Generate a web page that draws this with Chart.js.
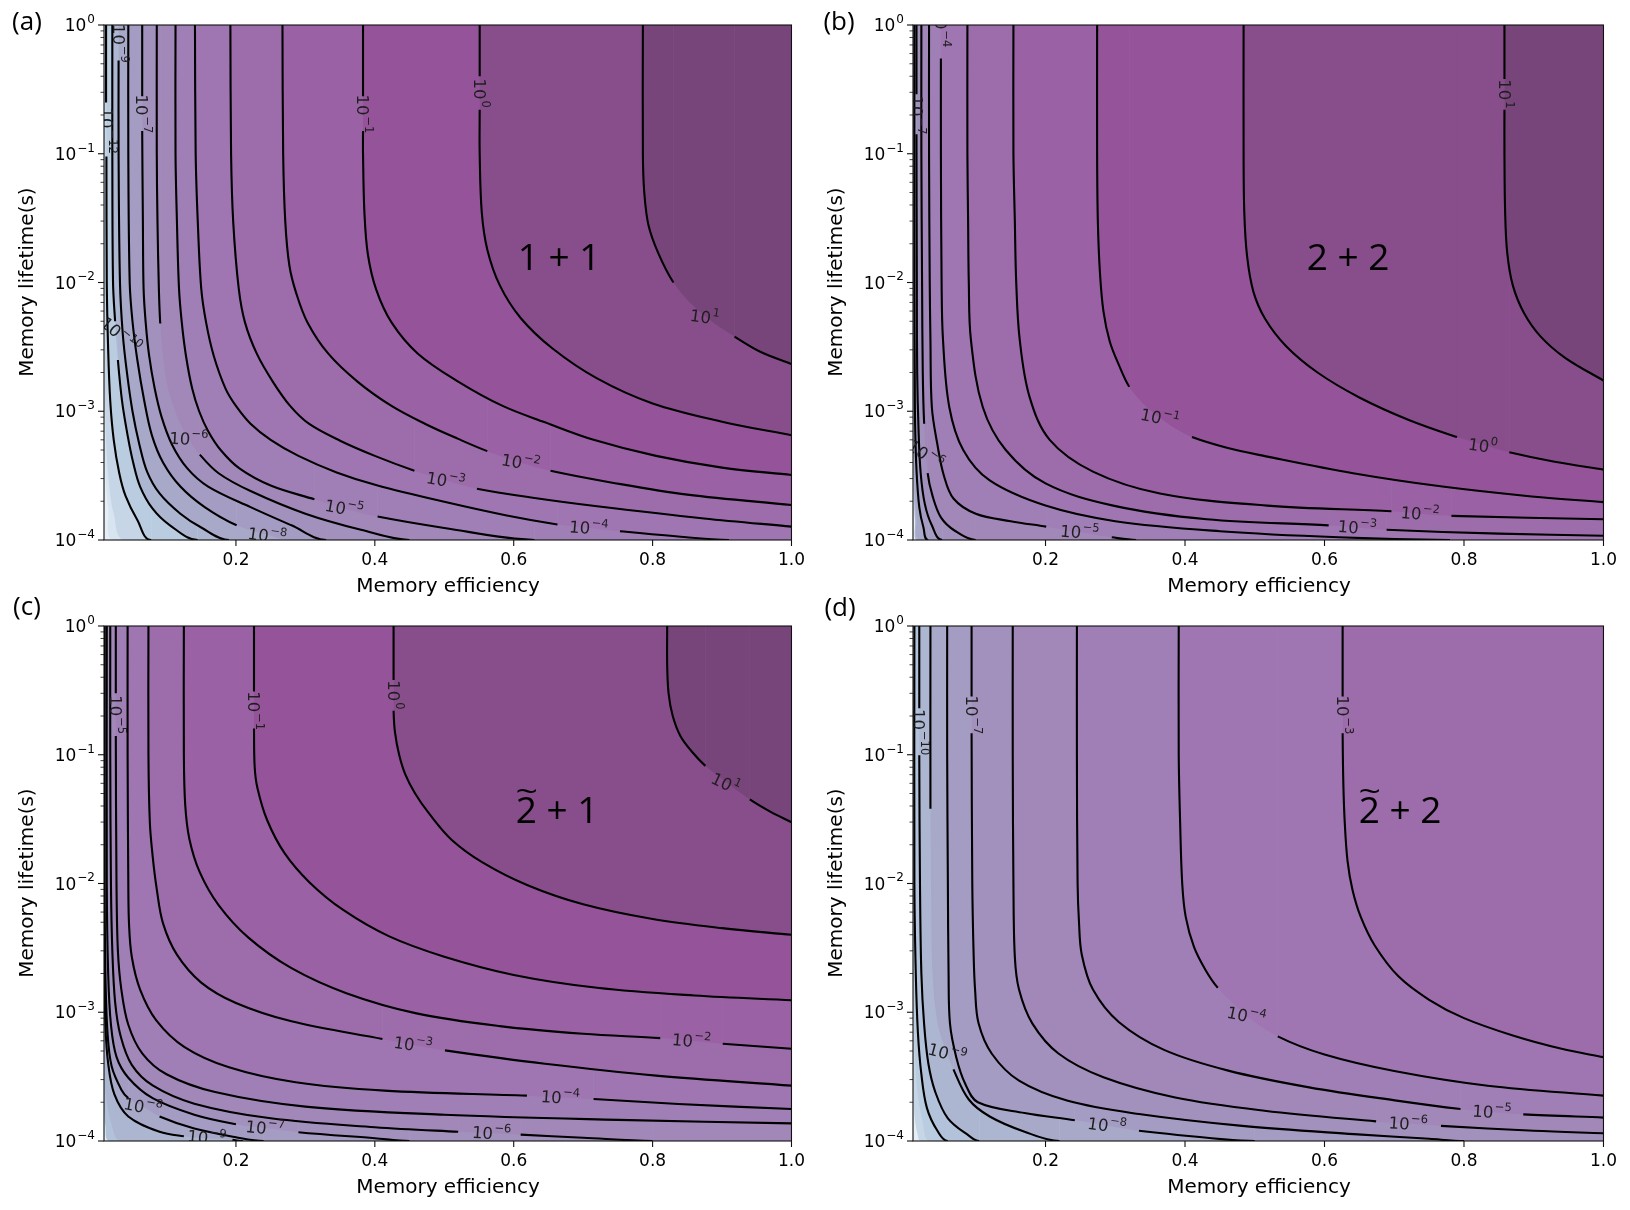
<!DOCTYPE html>
<html><head><meta charset="utf-8">
<script src="https://cdn.jsdelivr.net/npm/chart.js@4.4.0/dist/chart.umd.min.js"></script>
<style>
html,body{margin:0;padding:0;background:#fff;}
body{width:1630px;height:1210px;position:relative;overflow:hidden;}
canvas{position:absolute;}
.t{position:absolute;transform:translate(-50%,-50%);white-space:nowrap;line-height:1;color:#000;}
.ax{font-family:"DejaVu Sans";font-size:20px;}
.ayl{font-family:"DejaVu Sans";font-size:20px;transform:translate(-50%,-50%) rotate(-90deg);}
.pl{font-family:"Open Sans","Noto Sans",sans-serif;font-size:26px;}
.an{font-family:"Open Sans","Noto Sans",sans-serif;font-size:37px;}
.tl{position:relative;display:inline-block;}
.tt{position:absolute;left:50%;top:-0.5em;transform:translateX(-50%) scaleX(1.25);font-size:0.85em;line-height:1;}
</style></head><body>
<canvas id="ca" width="815" height="600" style="left:0px;top:0px;width:815px;height:600px"></canvas>
<canvas id="cb" width="818" height="600" style="left:809px;top:0px;width:818px;height:600px"></canvas>
<canvas id="cc" width="815" height="600" style="left:0px;top:601px;width:815px;height:600px"></canvas>
<canvas id="cd" width="818" height="600" style="left:809px;top:601px;width:818px;height:600px"></canvas>

<div class="t pl" style="left:27px;top:20px">(a)</div>
<div class="t pl" style="left:839px;top:20px">(b)</div>
<div class="t pl" style="left:27px;top:605px">(c)</div>
<div class="t pl" style="left:840px;top:606px">(d)</div>

<div class="t ax" style="left:448px;top:585px">Memory efficiency</div>
<div class="t ax" style="left:1259px;top:585px">Memory efficiency</div>
<div class="t ax" style="left:448px;top:1186px">Memory efficiency</div>
<div class="t ax" style="left:1259px;top:1186px">Memory efficiency</div>
<div class="t ayl" style="left:26px;top:282px">Memory lifetime(s)</div>
<div class="t ayl" style="left:835px;top:282px">Memory lifetime(s)</div>
<div class="t ayl" style="left:26px;top:883px">Memory lifetime(s)</div>
<div class="t ayl" style="left:835px;top:883px">Memory lifetime(s)</div>

<div class="t an" style="left:559px;top:255px">1 + 1</div>
<div class="t an" style="left:1348px;top:255px">2 + 2</div>
<div class="t an" style="left:557px;top:808px"><span class="tl">2<span class="tt">~</span></span> + 1</div>
<div class="t an" style="left:1400px;top:808px"><span class="tl">2<span class="tt">~</span></span> + 2</div>

<script>
// ---------- axis values ----------
const X_TICKS = [0.2, 0.4, 0.6, 0.8, 1.0];
const Y_TICKS = [1e-4, 1e-3, 1e-2, 1e-1, 1];
const X_RANGE = [0.01, 1.0];
const Y_RANGE = [1e-4, 1];

// ---------- panel (a) 1+1 : contour levels (powers of ten) and paths ----------
const A_LEVELS = [1, 0, -1, -2, -3, -4, -5, -6, -7, -8, -9, -10, -12];
const A_PATHS = [
 [[0.786,1],[0.786,0.1],[0.788,0.05],[0.794,0.028],[0.808,0.017],[0.83,0.01],null,[0.856,0.0068],null,[0.885,0.005],null,[0.918,0.0038],[0.955,0.0029],[1.0,0.00233]],
 [[0.551,1],[0.551,0.4],null,[0.551,0.22],[0.551,0.1],[0.554,0.035],[0.562,0.018],[0.58,0.0095],[0.61,0.0053],[0.655,0.0031],[0.72,0.0018],[0.8,0.00115],[0.9,8.3e-4],[1.0,6.5e-4]],
 [[0.383,1],[0.383,0.28],null,[0.383,0.15],[0.383,0.1],[0.385,0.035],[0.39,0.0165],[0.402,0.0088],[0.424,0.0049],[0.462,0.0028],[0.52,0.0017],[0.584,0.0011],[0.645,8.2e-4],[0.715,6.0e-4],[0.805,4.5e-4],[0.9,3.65e-4],[1.0,3.2e-4]],
 [[0.267,1],[0.268,0.1],[0.271,0.03],[0.277,0.0135],[0.287,0.0082],[0.303,0.0049],[0.333,0.0028],[0.375,0.0017],[0.424,0.0011],[0.472,8.0e-4],[0.52,6.1e-4],[0.562,4.9e-4],null,[0.61,4.0e-4],null,[0.653,3.45e-4],[0.74,2.8e-4],[0.85,2.25e-4],[1.0,1.87e-4]],
 [[0.192,1],[0.193,0.1],[0.196,0.03],[0.204,0.009],[0.213,0.0049],[0.23,0.0028],[0.253,0.0017],[0.278,0.0011],[0.305,8.0e-4],[0.35,5.9e-4],[0.40,4.5e-4],[0.457,3.45e-4],null,[0.502,2.9e-4],null,[0.547,2.5e-4],[0.63,2.12e-4],[0.723,1.82e-4],[0.874,1.47e-4],[1.0,1.27e-4]],
 [[0.141,1],[0.142,0.1],[0.145,0.03],[0.15,0.009],[0.157,0.0049],[0.168,0.0027],[0.185,0.0015],[0.2,0.0011],[0.221,8e-4],[0.25,6e-4],[0.29,4.5e-4],[0.345,3.35e-4],[0.404,2.65e-4],[0.5,1.98e-4],[0.59,1.55e-4],[0.663,1.32e-4],null,[0.708,1.24e-4],null,[0.753,1.17e-4],[0.84,1.06e-4],[0.91,1e-4]],
 [[0.113,1],[0.113,0.1],[0.115,0.03],[0.118,0.009],[0.122,0.0049],[0.128,0.0027],[0.137,0.0015],[0.147,0.001],[0.16,7e-4],[0.178,5e-4],[0.205,3.6e-4],[0.25,2.65e-4],[0.313,2.07e-4],null,[0.356,1.76e-4],null,[0.404,1.52e-4],[0.5,1.24e-4],[0.63,1e-4]],
 [[0.086,1],[0.086,0.1],[0.087,0.03],[0.089,0.009],[0.091,0.0048],null,[0.095,0.0027],null,[0.101,0.0016],null,[0.11,0.0011],null,[0.12,8e-4],null,[0.132,6.1e-4],null,[0.148,4.6e-4],[0.175,3.3e-4],[0.221,2.4e-4],[0.3,1.6e-4],[0.38,1.2e-4],[0.45,1e-4]],
 [[0.065,1],[0.065,0.28],null,[0.065,0.15],[0.066,0.03],[0.067,0.009],[0.07,0.0049],[0.075,0.0027],[0.083,0.0015],[0.093,9e-4],[0.108,5.5e-4],[0.13,3.6e-4],[0.16,2.6e-4],[0.221,1.8e-4],[0.28,1.3e-4],[0.33,1e-4]],
 [[0.045,1],[0.045,0.1],[0.047,0.01],[0.051,0.005],[0.058,0.0025],[0.068,0.0012],[0.079,6.5e-4],[0.095,4e-4],[0.12,2.6e-4],[0.155,1.8e-4],[0.201,1.3e-4],null,[0.245,1.1e-4],null,[0.28,1e-4]],
 [[0.031,1],null,[0.031,0.53],[0.031,0.1],[0.033,0.01],[0.037,0.004],[0.043,0.002],[0.051,0.001],[0.061,5.5e-4],[0.072,3.4e-4],[0.09,2.3e-4],[0.12,1.6e-4],[0.15,1.25e-4],[0.19,1e-4]],
 [[0.022,1],[0.022,0.1],[0.023,0.01],[0.026,0.005],null,[0.03,0.0025],[0.036,0.0012],[0.044,6.5e-4],[0.052,4e-4],[0.062,2.6e-4],[0.08,1.75e-4],[0.105,1.3e-4],[0.145,1e-4]],
 [[0.013,1],[0.013,0.25],null,[0.0135,0.095],[0.014,0.01],[0.016,0.003],[0.019,0.0012],[0.024,6e-4],[0.032,3.3e-4],[0.041,2.2e-4],[0.058,1.43e-4],[0.078,1e-4]]
];
const A_FILL_LEVELS = [-13, -14];
const A_FILL_PATHS = [
 [[0.01,0.02],[0.011,0.002],[0.013,6e-4],[0.017,2.8e-4],[0.024,1.6e-4],[0.04,1e-4]],
 [[0.01,0.0012],[0.012,3.5e-4],[0.016,1.8e-4],[0.024,1e-4]]
];
// label: [x, y, exponent, rotation deg]
const A_LABELS = [
 [0.014,0.151,-12,90],[0.031,0.72,-9,90],[0.065,0.204,-7,90],[0.383,0.204,-1,90],[0.551,0.296,0,90],
 [0.875,0.0054,1,8],[0.034,0.0039,-10,40],[0.132,6.1e-4,-6,3],[0.61,4.0e-4,-2,10],[0.502,2.9e-4,-3,10],
 [0.356,1.76e-4,-5,10],[0.708,1.24e-4,-4,5],[0.245,1.08e-4,-8,8]
];

// ---------- panel (b) 2+2 ----------
const B_LEVELS = [1, 0, -1, -2, -3, -4, -5, -6, -7, -8];
const B_PATHS = [
 [[0.858,1],[0.858,0.38],null,[0.858,0.22],[0.858,0.1],[0.859,0.035],[0.862,0.017],[0.87,0.0095],[0.886,0.0058],[0.91,0.0038],[0.945,0.0026],[1.0,0.00173]],
 [[0.484,1],[0.484,0.1],[0.485,0.035],[0.489,0.016],[0.498,0.0085],[0.515,0.0052],[0.545,0.0032],[0.59,0.002],[0.65,0.00128],[0.72,8.6e-4],[0.79,6.3e-4],null,[0.827,5.5e-4],null,[0.865,4.8e-4],[0.93,4.05e-4],[1.0,3.52e-4]],
 [[0.274,1],[0.274,0.1],[0.275,0.03],[0.278,0.012],[0.283,0.006],[0.292,0.0035],[0.305,0.0023],[0.32,0.00155],null,[0.34,0.00115],null,[0.364,8.9e-4],null,[0.387,7.3e-4],null,[0.41,6.3e-4],[0.46,5.2e-4],[0.513,4.5e-4],[0.641,3.3e-4],[0.769,2.6e-4],[0.897,2.18e-4],[1.0,1.97e-4]],
 [[0.154,1],[0.154,0.1],[0.156,0.03],[0.158,0.01],[0.163,0.0036],[0.177,0.0013],[0.206,6e-4],[0.268,3.4e-4],[0.364,2.3e-4],[0.518,1.85e-4],[0.696,1.67e-4],null,[0.737,1.6e-4],null,[0.782,1.54e-4],[1.0,1.45e-4]],
 [[0.088,1],[0.088,0.1],[0.089,0.03],[0.09,0.01],[0.093,0.0036],[0.11,0.00108],[0.143,5e-4],[0.2,2.75e-4],[0.297,1.85e-4],[0.431,1.45e-4],[0.606,1.3e-4],null,[0.647,1.25e-4],null,[0.689,1.2e-4],[0.85,1.12e-4],[1.0,1.08e-4]],
 [[0.05,1],null,[0.05,0.55],[0.05,0.1],[0.051,0.01],[0.053,0.0036],[0.062,0.00108],[0.082,5e-4],[0.12,2.9e-4],[0.2,1.85e-4],[0.3,1.4e-4],[0.45,1.17e-4],[0.62,1.05e-4],[0.78,1e-4]],
 [[0.033,1],[0.033,0.1],[0.034,0.01],[0.035,0.0036],[0.037,0.00108],[0.045,5.5e-4],[0.054,3.2e-4],[0.068,2.1e-4],[0.1,1.6e-4],[0.15,1.4e-4],[0.201,1.27e-4],null,[0.249,1.15e-4],null,[0.295,1.05e-4],[0.33,1e-4]],
 [[0.022,1],[0.022,0.1],[0.023,0.01],[0.024,0.002],[0.026,8e-4],null,[0.031,3.3e-4],[0.038,2.2e-4],[0.05,1.5e-4],[0.07,1.18e-4],[0.1,1e-4]],
 [[0.015,1],[0.015,0.29],null,[0.015,0.142],[0.0155,0.01],[0.016,0.002],[0.018,7e-4],[0.021,3.3e-4],[0.027,1.9e-4],[0.037,1.3e-4],[0.052,1e-4]],
 [[0.012,1],[0.012,0.01],[0.0125,0.002],[0.013,8e-4],[0.015,3.5e-4],[0.019,1.8e-4],[0.025,1.25e-4],[0.032,1e-4]]
];
const B_FILL_LEVELS = [-9, -10];
const B_FILL_PATHS = [
 [[0.01,0.01],[0.011,0.001],[0.012,3e-4],[0.015,1.5e-4],[0.021,1e-4]],
 [[0.01,8e-4],[0.011,2.5e-4],[0.013,1.4e-4],[0.016,1e-4]]
];
const B_LABELS = [
 [0.015,0.2,-7,90],[0.05,0.95,-4,90],[0.858,0.292,1,90],[0.364,8.9e-4,-1,12],[0.827,5.4e-4,0,8],
 [0.737,1.6e-4,-2,5],[0.647,1.25e-4,-3,5],[0.249,1.15e-4,-5,5],[0.028,4.6e-4,-6,35]
];

// ---------- panel (c) 2~+1 ----------
const C_LEVELS = [1, 0, -1, -2, -3, -4, -5, -6, -7, -8, -9];
const C_PATHS = [
 [[0.821,1],[0.821,0.5],[0.823,0.3],[0.829,0.2],[0.84,0.14],[0.857,0.105],[0.876,0.082],null,[0.905,0.062],null,[0.94,0.045],[0.97,0.036],[1.0,0.0299]],
 [[0.427,1],[0.427,0.38],null,[0.427,0.22],[0.429,0.15],[0.435,0.1],[0.444,0.07],[0.458,0.05],[0.478,0.035],[0.51,0.022],[0.555,0.0146],[0.62,0.0097],[0.7,0.0069],[0.8,0.0053],[0.9,0.0045],[1.0,0.004]],
 [[0.226,1],[0.226,0.31],null,[0.226,0.16],[0.227,0.08],[0.231,0.055],[0.245,0.031],[0.27,0.0172],[0.306,0.0102],[0.355,0.0062],[0.42,0.0039],[0.5,0.0027],[0.6,0.00195],[0.72,0.00155],[0.86,0.00135],[1.0,0.00124]],
 [[0.125,1],[0.125,0.1],[0.127,0.0404],[0.133,0.0221],[0.148,0.0122],[0.175,0.0068],[0.218,0.0038],[0.28,0.0022],[0.36,0.0014],[0.46,9.8e-4],[0.58,7.8e-4],[0.7,6.8e-4],[0.811,6.3e-4],null,[0.856,6.0e-4],null,[0.901,5.7e-4],[1.0,5.2e-4]],
 [[0.074,1],[0.074,0.1],[0.076,0.0299],[0.08,0.0164],[0.086,0.009],[0.095,0.0049],[0.115,0.0028],[0.15,0.0017],[0.2,0.00118],[0.28,8.5e-4],[0.411,6.2e-4],null,[0.455,5.6e-4],null,[0.501,5.06e-4],[0.645,3.98e-4],[0.805,3.22e-4],[1.0,2.69e-4]],
 [[0.044,1],[0.044,0.1],[0.045,0.01],[0.046,0.0049],[0.05,0.0027],[0.062,0.0015],[0.085,8.7e-4],[0.126,5.37e-4],[0.19,3.74e-4],[0.286,2.86e-4],[0.414,2.46e-4],[0.619,2.25e-4],null,[0.667,2.18e-4],null,[0.715,2.12e-4],[0.837,1.94e-4],[1.0,1.77e-4]],
 [[0.027,1],[0.027,0.3],null,[0.027,0.14],[0.028,0.01],[0.03,0.003],[0.035,0.0015],[0.045,8e-4],[0.065,4.8e-4],[0.1,3.3e-4],[0.17,2.4e-4],[0.3,1.85e-4],[0.5,1.6e-4],[0.75,1.46e-4],[1.0,1.37e-4]],
 [[0.019,1],[0.019,0.1],[0.02,0.01],[0.022,0.003],[0.026,0.0012],[0.034,6.5e-4],[0.05,3.9e-4],[0.08,2.7e-4],[0.14,1.95e-4],[0.25,1.5e-4],[0.4,1.28e-4],[0.52,1.18e-4],null,[0.568,1.15e-4],null,[0.61,1.12e-4],[0.7,1.06e-4],[0.8,1e-4]],
 [[0.014,1],[0.014,0.01],[0.016,0.002],[0.02,8e-4],[0.028,4.5e-4],[0.045,3.1e-4],[0.08,2.15e-4],[0.14,1.6e-4],[0.2,1.35e-4],null,[0.242,1.26e-4],null,[0.29,1.17e-4],[0.4,1.05e-4],[0.45,1e-4]],
 [[0.011,1],[0.011,0.01],[0.012,0.002],[0.015,7e-4],[0.021,3.8e-4],[0.035,2.5e-4],[0.045,2.15e-4],null,[0.066,1.85e-4],null,[0.09,1.55e-4],[0.14,1.25e-4],[0.2,1.07e-4],[0.24,1e-4]],
 [[0.01,0.003],[0.012,8e-4],[0.016,4e-4],[0.025,2.3e-4],[0.045,1.55e-4],[0.09,1.18e-4],[0.125,1.09e-4],null,[0.158,1.05e-4],null,[0.195,1.02e-4],[0.21,1e-4]]
];
const C_FILL_LEVELS = [-10, -11];
const C_FILL_PATHS = [
 [[0.01,4e-4],[0.013,2.2e-4],[0.02,1.4e-4],[0.035,1e-4]],
 [[0.01,1.8e-4],[0.012,1.3e-4],[0.018,1e-4]]
];
const C_LABELS = [
 [0.027,0.205,-5,90],[0.226,0.22,-1,90],[0.427,0.292,0,90],[0.905,0.06,1,25],[0.856,6.0e-4,-2,5],
 [0.455,5.6e-4,-3,8],[0.667,2.18e-4,-4,4],[0.568,1.15e-4,-6,4],[0.242,1.26e-4,-7,6],[0.066,1.85e-4,-8,10],
 [0.158,1.06e-4,-9,6]
];

// ---------- panel (d) 2~+2 ----------
const D_LEVELS = [-3, -4, -5, -6, -7, -8, -9, -10, -11];
const D_PATHS = [
 [[0.626,1],[0.626,0.284],null,[0.626,0.147],[0.627,0.06],[0.629,0.03],[0.633,0.015],[0.64,0.009],[0.652,0.0055],[0.672,0.0033],[0.706,0.0019],[0.75,0.00125],[0.8,9e-4],[0.87,6.6e-4],[0.94,5.2e-4],[1.0,4.48e-4]],
 [[0.391,1],[0.391,0.1],[0.393,0.03],[0.396,0.01],[0.401,0.0055],[0.413,0.0032],[0.43,0.0021],[0.447,0.00155],null,[0.488,9.4e-4],null,[0.533,6.5e-4],[0.6,4.7e-4],[0.7,3.5e-4],[0.834,2.69e-4],[1.0,2.25e-4]],
 [[0.245,1],[0.245,0.1],[0.246,0.01],[0.248,0.005],[0.252,0.0028],[0.268,0.0015],[0.305,8.4e-4],[0.37,5.1e-4],[0.462,3.52e-4],[0.578,2.61e-4],[0.706,2.05e-4],[0.795,1.77e-4],null,[0.84,1.68e-4],null,[0.885,1.61e-4],[1.0,1.52e-4]],
 [[0.153,1],[0.153,0.1],[0.154,0.01],[0.156,0.0027],[0.162,0.0015],[0.181,8.2e-4],[0.219,4.76e-4],[0.283,3.13e-4],[0.386,2.18e-4],[0.514,1.72e-4],[0.674,1.42e-4],null,[0.72,1.36e-4],null,[0.767,1.31e-4],[0.9,1.2e-4],[1.0,1.15e-4]],
 [[0.094,1],[0.094,0.284],null,[0.094,0.147],[0.095,0.01],[0.097,0.0027],[0.099,0.0015],[0.104,8.2e-4],[0.123,4.76e-4],[0.162,2.94e-4],[0.232,2.05e-4],[0.334,1.62e-4],[0.482,1.31e-4],[0.642,1.13e-4],[0.75,1.04e-4],[0.8,1e-4]],
 [[0.059,1],[0.059,0.1],[0.06,0.01],[0.061,0.002],[0.063,8.2e-4],[0.072,4.48e-4],[0.085,2.77e-4],[0.103,2.0e-4],[0.17,1.65e-4],[0.242,1.45e-4],null,[0.288,1.32e-4],null,[0.334,1.2e-4],[0.456,1.03e-4],[0.5,1e-4]],
 [[0.035,1],[0.035,0.038],null,[0.036,0.008],null,[0.038,0.002],null,[0.044,9e-4],null,[0.052,6e-4],null,[0.068,3.6e-4],[0.09,2.1e-4],[0.12,1.55e-4],[0.17,1.18e-4],[0.22,1e-4]],
 [[0.019,1],[0.019,0.23],null,[0.019,0.099],[0.02,0.01],[0.022,0.002],[0.026,8e-4],[0.032,4e-4],[0.042,2.4e-4],[0.06,1.5e-4],[0.09,1.1e-4],[0.105,1e-4]],
 [[0.012,1],[0.012,0.01],[0.014,0.002],[0.017,7e-4],[0.022,3.3e-4],[0.03,1.8e-4],[0.045,1.2e-4],[0.06,1e-4]]
];
const D_FILL_LEVELS = [-12, -13];
const D_FILL_PATHS = [
 [[0.01,0.003],[0.012,6e-4],[0.016,2.5e-4],[0.024,1.4e-4],[0.035,1e-4]],
 [[0.01,3e-4],[0.012,1.6e-4],[0.017,1.1e-4],[0.021,1e-4]]
];
const D_LABELS = [
 [0.019,0.15,-10,90],[0.094,0.204,-7,90],[0.626,0.204,-3,90],[0.488,9.4e-4,-4,12],[0.84,1.68e-4,-5,4],
 [0.72,1.36e-4,-6,4],[0.288,1.32e-4,-8,8],[0.059,4.8e-4,-9,15]
];

// ---------- styling ----------
const COLORS = {
  '1':'#77457a','0':'#874e8b','-1':'#955399','-2':'#9a61a4','-3':'#9d6cab','-4':'#9f76b2',
  '-5':'#a07fb6','-6':'#a287b9','-7':'#a391bd','-8':'#a59cc3','-9':'#a8a8c9','-10':'#acb6d1',
  '-11':'#b2c2da','-12':'#b9cce0','-13':'#c6d6e7','-14':'#d8e4f0'
};
const BG = '#e6eef6';

function makeDatasets(levels, paths, stroke) {
  return levels.map((lv, i) => {
    const pts = []; const hidden = new Set();
    paths[i].forEach(p => {
      if (p === null) hidden.add(pts.length - 1);
      else pts.push({x: p[0], y: p[1]});
    });
    const last = pts[pts.length - 1];
    if (last.x < 1 && last.y <= 1.00001e-4) { hidden.add(pts.length - 1); pts.push({x: X_RANGE[1], y: Y_RANGE[0]}); }
    return {
      data: pts, fill: 'end', backgroundColor: COLORS[String(lv)],
      borderColor: stroke ? '#000' : 'rgba(0,0,0,0)', borderWidth: stroke ? 2.1 : 0,
      tension: 0.35, pointRadius: 0, pointHoverRadius: 0,
      segment: { borderColor: c => (!stroke || hidden.has(c.p0DataIndex)) ? 'rgba(0,0,0,0)' : '#000' }
    };
  });
}

// draws "10" with a raised exponent, centred at (0,0) after transform
function drawPow(ctx, exp, baseSize, supSize, color, align) {
  const base = '10';
  const sup = (exp < 0 ? '\u2212' : '') + Math.abs(exp);
  ctx.font = baseSize + 'px "DejaVu Sans"';
  const wb = ctx.measureText(base).width;
  ctx.font = supSize + 'px "DejaVu Sans"';
  const ws = ctx.measureText(sup).width;
  const total = wb + ws + 1;
  const x0 = align === 'right' ? -total : -total / 2;
  ctx.fillStyle = color;
  ctx.textBaseline = 'alphabetic';
  ctx.textAlign = 'left';
  ctx.font = baseSize + 'px "DejaVu Sans"';
  ctx.fillText(base, x0, baseSize * 0.36);
  ctx.font = supSize + 'px "DejaVu Sans"';
  ctx.fillText(sup, x0 + wb + 1, -baseSize * 0.12);
}

function makePlugin(labels) {
  return {
    id: 'contourDecor',
    beforeDraw(chart) {
      const a = chart.chartArea, ctx = chart.ctx;
      ctx.save(); ctx.fillStyle = BG; ctx.fillRect(a.left, a.top, a.right - a.left, a.bottom - a.top); ctx.restore();
    },
    afterDatasetsDraw(chart) {
      const a = chart.chartArea, ctx = chart.ctx;
      const xs = chart.scales.x, ys = chart.scales.y;
      ctx.save();
      ctx.beginPath(); ctx.rect(a.left, a.top, a.right - a.left, a.bottom - a.top); ctx.clip();
      labels.forEach(l => {
        ctx.save();
        ctx.translate(xs.getPixelForValue(l[0]), ys.getPixelForValue(l[1]));
        ctx.rotate(l[3] * Math.PI / 180);
        drawPow(ctx, l[2], 16.5, 11.5, '#1e1e1e', 'center');
        ctx.restore();
      });
      ctx.restore();
      // frame
      ctx.save();
      ctx.strokeStyle = '#111'; ctx.lineWidth = 1.1;
      ctx.strokeRect(a.left, a.top, a.right - a.left, a.bottom - a.top);
      // x ticks
      X_TICKS.forEach(v => { const px = xs.getPixelForValue(v); ctx.beginPath(); ctx.moveTo(px, a.bottom); ctx.lineTo(px, a.bottom + 6); ctx.stroke(); });
      // y ticks (major with labels, and minor)
      Y_TICKS.forEach(v => {
        const py = ys.getPixelForValue(v);
        ctx.lineWidth = 1.1; ctx.strokeStyle = '#111';
        ctx.beginPath(); ctx.moveTo(a.left - 6, py); ctx.lineTo(a.left, py); ctx.stroke();
        ctx.save(); ctx.translate(a.left - 9, py);
        drawPow(ctx, Math.round(Math.log10(v)), 17, 12, '#000', 'right');
        ctx.restore();
        if (v < 1) {
          for (let m = 2; m <= 9; m++) {
            const pm = ys.getPixelForValue(m * v);
            ctx.lineWidth = 0.8; ctx.beginPath(); ctx.moveTo(a.left - 3.5, pm); ctx.lineTo(a.left, pm); ctx.stroke();
          }
        }
      });
      ctx.restore();
    }
  };
}

function makeChart(id, levels, paths, fillLevels, fillPaths, labels) {
  const datasets = makeDatasets(levels, paths, true).concat(makeDatasets(fillLevels, fillPaths, false));
  const tickFont = { family: 'DejaVu Sans', size: 17 };
  return new Chart(document.getElementById(id), {
    type: 'line',
    data: { datasets },
    options: {
      responsive: false, animation: false, devicePixelRatio: 1,
      layout: { padding: { left: 0, top: 25, right: 22, bottom: 0 } },
      plugins: { legend: { display: false }, tooltip: { enabled: false }, filler: { drawTime: 'beforeDatasetsDraw', propagate: false } },
      events: [],
      scales: {
        x: {
          type: 'linear', min: X_RANGE[0], max: X_RANGE[1],
          grid: { display: false, drawTicks: false }, border: { display: false },
          ticks: { font: tickFont, color: '#000', padding: 10, maxRotation: 0, autoSkip: false, callback: v => Number(v).toFixed(1) },
          afterBuildTicks: s => { s.ticks = X_TICKS.map(v => ({ value: v })); },
          afterFit: s => { s.height = 60; }
        },
        y: {
          type: 'logarithmic', min: Y_RANGE[0], max: Y_RANGE[1],
          grid: { display: false, drawTicks: false }, border: { display: false },
          ticks: { display: false },
          afterBuildTicks: s => { s.ticks = Y_TICKS.map(v => ({ value: v })); },
          afterFit: s => { s.width = 104; }
        }
      }
    },
    plugins: [makePlugin(labels)]
  });
}

makeChart('ca', A_LEVELS, A_PATHS, A_FILL_LEVELS, A_FILL_PATHS, A_LABELS);
makeChart('cb', B_LEVELS, B_PATHS, B_FILL_LEVELS, B_FILL_PATHS, B_LABELS);
makeChart('cc', C_LEVELS, C_PATHS, C_FILL_LEVELS, C_FILL_PATHS, C_LABELS);
makeChart('cd', D_LEVELS, D_PATHS, D_FILL_LEVELS, D_FILL_PATHS, D_LABELS);
</script>
</body></html>
